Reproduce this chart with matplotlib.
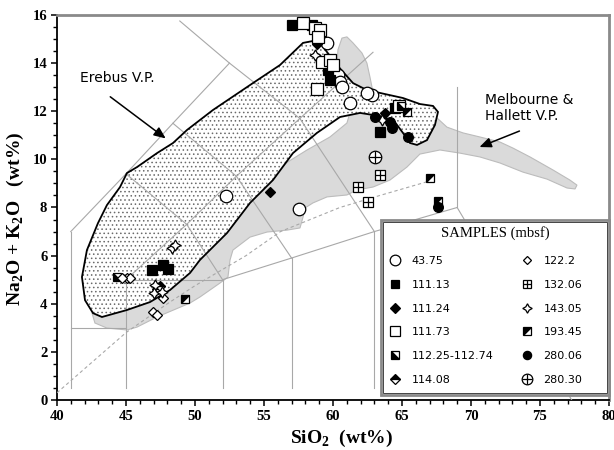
import numpy as np
import matplotlib
matplotlib.use("Agg")
import matplotlib.pyplot as plt
from matplotlib.patches import Polygon, Rectangle
from matplotlib.markers import MarkerStyle
from matplotlib.transforms import Affine2D
from matplotlib.legend_handler import HandlerTuple
from matplotlib.ticker import MultipleLocator

plt.rcParams['mathtext.fontset'] = 'custom'
plt.rcParams['mathtext.rm'] = 'Liberation Serif:bold'
plt.rcParams['mathtext.bf'] = 'Liberation Serif:bold'
plt.rcParams['hatch.linewidth'] = 0.6

# ---------------- field outlines (wt%) ----------------
erebus_x = [41.81, 42.17, 42.97, 43.62, 44.57, 45.07, 45.80, 47.25, 48.41, 49.42, 51.30, 54.20,
            56.16, 57.83, 58.55, 59.06, 60.29, 61.45, 62.46, 63.41, 65.07, 66.30, 67.25, 67.61,
            67.39, 66.81, 66.09, 65.58, 65.07, 64.49, 63.41, 61.96, 60.51, 58.84, 57.10, 55.65,
            53.99, 52.32, 50.36, 49.64, 48.19, 46.74, 45.07, 43.26, 42.61, 42.03]
erebus_y = [5.11, 6.23, 7.35, 8.10, 8.85, 9.43, 9.68, 10.26, 10.68, 11.22, 12.05, 13.17,
            13.92, 14.84, 14.92, 14.84, 13.92, 13.17, 12.88, 12.76, 12.55, 12.30, 12.22, 11.97,
            11.43, 10.80, 10.60, 10.68, 11.10, 11.55, 11.80, 11.93, 11.76, 11.10, 10.26, 9.14,
            8.19, 6.94, 5.82, 5.28, 4.57, 4.07, 3.74, 3.45, 3.61, 4.15]

melb_x = [60.29, 60.36, 60.65, 61.01, 61.45, 62.10, 62.46, 62.68, 62.90, 64.13, 67.03, 67.54,
          68.26, 69.42, 70.65, 72.10, 73.04, 74.28, 75.94, 77.17, 77.68, 77.54, 76.96, 75.51,
          73.77, 72.10, 70.65, 69.20, 67.75, 66.30, 65.36, 64.13, 62.90, 61.74, 61.01, 59.57,
          58.55, 57.97, 57.83, 57.61, 56.67, 55.22, 53.99, 52.75, 52.54, 52.39, 51.81, 50.36,
          49.64, 47.25, 45.80, 45.07, 43.62, 42.75, 42.54, 43.48, 46.74, 50.36, 53.80,
          53.99, 54.71, 55.22, 56.38, 58.12, 59.78, 61.01, 61.23, 60.87]
melb_y = [13.92, 14.55, 15.04, 15.09, 14.84, 14.42, 14.00, 13.42, 12.80, 12.13, 11.97, 11.72,
          11.34, 11.10, 10.93, 10.72, 10.47, 10.10, 9.56, 9.14, 8.93, 8.77, 8.81, 9.18,
          9.47, 9.85, 10.10, 10.26, 10.39, 10.22, 9.68, 9.14, 8.85, 8.73, 8.52, 8.44,
          8.19, 7.98, 7.60, 7.15, 7.06, 6.98, 6.77, 6.23, 5.82, 5.11, 4.86, 4.28,
          4.03, 3.45, 3.03, 2.91, 2.99, 3.20, 3.61, 3.95, 4.25, 6.00, 8.30,
          8.31, 8.81, 9.23, 9.77, 10.39, 10.93, 11.51, 11.93, 12.88]

# alkaline / subalkaline divide (dashed)
divide_x = [40.0, 42.0, 45.0, 48.0, 50.0, 53.7, 56.2, 60.5, 63.4, 67.0]
divide_y = [0.3, 1.3, 2.8, 4.0, 4.75, 6.0, 7.0, 8.0, 8.5, 9.1]

# TAS classification boundaries
tas_lines = [
    ([41, 41], [0.5, 7]),
    ([41, 45], [3, 3]),
    ([45, 45], [0.5, 5]),
    ([45, 52], [5, 5]),
    ([52, 52], [0.5, 5]),
    ([57, 57], [0.5, 5.9]),
    ([63, 63], [0.5, 7]),
    ([52, 57, 63, 69], [5, 5.9, 7, 8]),
    ([69, 69], [8, 13]),
    ([69, 77.3], [8, 0]),
    ([41, 45, 48.4, 52.5], [7, 9.4, 11.5, 14]),
    ([45, 49.4, 53, 57.6], [5, 7.3, 9.3, 11.7]),
    ([52, 49.4, 45], [5, 7.3, 9.4]),
    ([57, 53, 48.4], [5.9, 9.3, 11.5]),
    ([63, 57.6, 52.5, 48.9], [7, 11.7, 14, 15.75]),
    ([57.6, 62.9], [11.7, 14.45]),
]

# ---------------- samples ----------------
s4375_x = [59.55, 60.36, 60.51, 60.63, 62.80, 61.23, 52.25, 57.54, 62.44]
s4375_y = [14.82, 13.50, 13.23, 13.02, 12.67, 12.33, 8.49, 7.94, 12.75]
s11113_x = [57.00, 58.45, 59.78, 64.50, 63.41, 46.86, 47.70, 48.07, 59.64]
s11113_y = [15.58, 15.58, 13.30, 12.12, 11.15, 5.40, 5.61, 5.43, 13.71]
s11124_x = [55.43, 58.85, 63.77]
s11124_y = [8.63, 14.80, 11.91]
s11173_x = [57.85, 58.70, 59.06, 58.94, 59.18, 59.78, 60.00, 58.82, 64.78]
s11173_y = [15.68, 15.45, 15.38, 15.10, 14.06, 14.13, 13.92, 12.92, 12.22]
s11225_x = [44.33, 64.95]
s11225_y = [5.12, 12.20]
s11408_x = [47.27, 47.50]
s11408_y = [4.60, 4.75]
s1222_x = [46.98, 47.27, 47.66, 45.05, 45.30, 44.69]
s1222_y = [3.67, 3.53, 4.22, 5.06, 5.08, 5.08]
s13206_x = [63.41, 61.83, 62.56]
s13206_y = [9.35, 8.86, 8.24]
s14305_x = [58.70, 63.53, 48.31, 48.55, 47.10, 47.03, 47.59]
s14305_y = [14.34, 11.64, 6.30, 6.44, 4.78, 4.43, 4.50]
s19345_x = [67.03, 67.63, 49.28, 65.34]
s19345_y = [9.21, 8.25, 4.20, 11.98]
s28006_x = [63.04, 64.13, 64.25, 65.46, 67.63]
s28006_y = [11.77, 11.57, 11.29, 10.94, 8.00]
s28030_x = [63.04]
s28030_y = [10.11]

sample_labels = ['43.75', '111.13', '111.24', '111.73', '112.25-112.74', '114.08',
                 '122.2', '132.06', '143.05', '193.45', '280.06', '280.30']

# ---------------- figure ----------------
fig = plt.figure(figsize=(6.14, 4.5), dpi=100)
ax = fig.add_axes([0.0928, 0.1111, 0.899, 0.8556])
ax.set_xlim(40, 80)
ax.set_ylim(0, 16)

GREY_LINE = '#a8a8a8'

ax.add_patch(Polygon(np.column_stack([melb_x, melb_y]), closed=True,
                     facecolor='#dadada', edgecolor='#bcbcbc', lw=0.8, zorder=1))
ax.add_patch(Polygon(np.column_stack([erebus_x, erebus_y]), closed=True,
                     facecolor='white', edgecolor='#6a6a6a', lw=0, hatch='....', zorder=2))
for xs, ys in tas_lines:
    ax.plot(xs, ys, color=GREY_LINE, lw=0.8, zorder=3)
ax.plot(divide_x, divide_y, color=GREY_LINE, lw=0.8, ls=(0, (3, 2.5)), zorder=3)
ax.add_patch(Polygon(np.column_stack([erebus_x, erebus_y]), closed=True,
                     fill=False, edgecolor='black', lw=1.3, zorder=4))

rot45 = Affine2D().rotate_deg(45)
half_ll = MarkerStyle('D', fillstyle='left', transform=rot45)
half_ul = MarkerStyle('D', fillstyle='top', transform=rot45)
diam_top = MarkerStyle('D', fillstyle='top')

kw = dict(ls='none', mec='black', mew=0.9, zorder=5)
h1, = ax.plot(s4375_x, s4375_y, marker='o', ms=9, mfc='white', **kw)
h2, = ax.plot(s11113_x, s11113_y, marker='s', ms=7, mfc='black', **kw)
h3, = ax.plot(s11124_x, s11124_y, marker='D', ms=5.5, mfc='black', **kw)
h4, = ax.plot(s11173_x, s11173_y, marker='s', ms=8, mfc='white', **kw)
h5, = ax.plot(s11225_x, s11225_y, marker=half_ll, ms=6, mfc='black', markerfacecoloralt='white', **kw)
h6, = ax.plot(s11408_x, s11408_y, marker=diam_top, ms=5.5, mfc='black', markerfacecoloralt='white', **kw)
h7, = ax.plot(s1222_x, s1222_y, marker='D', ms=5, mfc='white', **kw)
h8a, = ax.plot(s13206_x, s13206_y, marker='s', ms=7.5, mfc='white', **kw)
h8b, = ax.plot(s13206_x, s13206_y, marker='+', ms=7, mec='black', mew=0.9, ls='none', zorder=6)
h9, = ax.plot(s14305_x, s14305_y, marker=(4, 1, 0), ms=8, mfc='white', **kw)
h10, = ax.plot(s19345_x, s19345_y, marker=half_ul, ms=6, mfc='black', markerfacecoloralt='white', **kw)
h11, = ax.plot(s28006_x, s28006_y, marker='o', ms=7, mfc='black', **kw)
h12a, = ax.plot(s28030_x, s28030_y, marker='o', ms=9, mfc='white', **kw)
h12b, = ax.plot(s28030_x, s28030_y, marker='+', ms=9, mec='black', mew=0.9, ls='none', zorder=6)

# legend box (double border) + title
ax.add_patch(Rectangle((0.587, 0.013), 0.413, 0.4545, transform=ax.transAxes,
                       facecolor='white', edgecolor='#8a8a8a', lw=2.0, zorder=9, clip_on=False))
ax.add_patch(Rectangle((0.5906, 0.0182), 0.4058, 0.4441, transform=ax.transAxes,
                       facecolor='none', edgecolor='#444444', lw=0.7, zorder=9, clip_on=False))
ax.text(0.7935, 0.434, 'SAMPLES (mbsf)', transform=ax.transAxes, ha='center', va='center',
        family='Liberation Serif', fontsize=10.5, zorder=11)

handles = [h1, h2, h3, h4, h5, h6, h7, (h8a, h8b), h9, h10, h11, (h12a, h12b)]
leg = ax.legend(handles, sample_labels, ncol=2, loc='upper left', bbox_to_anchor=(0.6023, 0.374),
                borderaxespad=0, prop={'family': 'DejaVu Sans', 'size': 8},
                handlelength=1.0, handletextpad=1.0, columnspacing=2.5, labelspacing=1.24,
                borderpad=0, markerscale=0.85, frameon=False,
                handler_map={tuple: HandlerTuple(ndivide=1)})
leg.set_zorder(10)

# annotations
ax.text(44.35, 13.38, 'Erebus V.P.', fontsize=10, family='DejaVu Sans', ha='center', va='center')
ax.annotate('', xy=(48.04, 10.8), xytext=(43.7, 12.67),
            arrowprops=dict(arrowstyle='-|>,head_length=0.7,head_width=0.3', color='black', lw=1.1))
ax.text(71.0, 12.13, 'Melbourne &\nHallett V.P.', fontsize=10, family='DejaVu Sans',
        ha='left', va='center', linespacing=1.25)
ax.annotate('', xy=(70.43, 10.47), xytext=(73.7, 11.22),
            arrowprops=dict(arrowstyle='-|>,head_length=0.7,head_width=0.3', color='black', lw=1.1))

# axes styling
ax.xaxis.set_major_locator(MultipleLocator(5))
ax.xaxis.set_minor_locator(MultipleLocator(1))
ax.yaxis.set_major_locator(MultipleLocator(2))
ax.yaxis.set_minor_locator(MultipleLocator(0.5))
ax.tick_params(which='major', direction='out', length=4, width=1.1, labelsize=10.5, pad=3)
ax.tick_params(which='minor', direction='out', length=3, width=1.0)
for lab in ax.get_xticklabels() + ax.get_yticklabels():
    lab.set_family('Liberation Serif')
    lab.set_fontweight('bold')
for s in ['left', 'bottom']:
    ax.spines[s].set_linewidth(1.3)
    ax.spines[s].set_color('black')
for s in ['top', 'right']:
    ax.spines[s].set_linewidth(2.0)
    ax.spines[s].set_color('#8a8a8a')

ax.set_xlabel(r'SiO$_\mathbf{2}$  (wt%)', family='Liberation Serif', fontweight='bold', fontsize=14)
ax.set_ylabel(r'Na$_\mathbf{2}$O + K$_\mathbf{2}$O   (wt%)', family='Liberation Serif', fontweight='bold', fontsize=14)
ax.xaxis.set_label_coords(0.515, -0.072)
ax.yaxis.set_label_coords(-0.056, 0.47)

fig.savefig('out.png', dpi=100)
